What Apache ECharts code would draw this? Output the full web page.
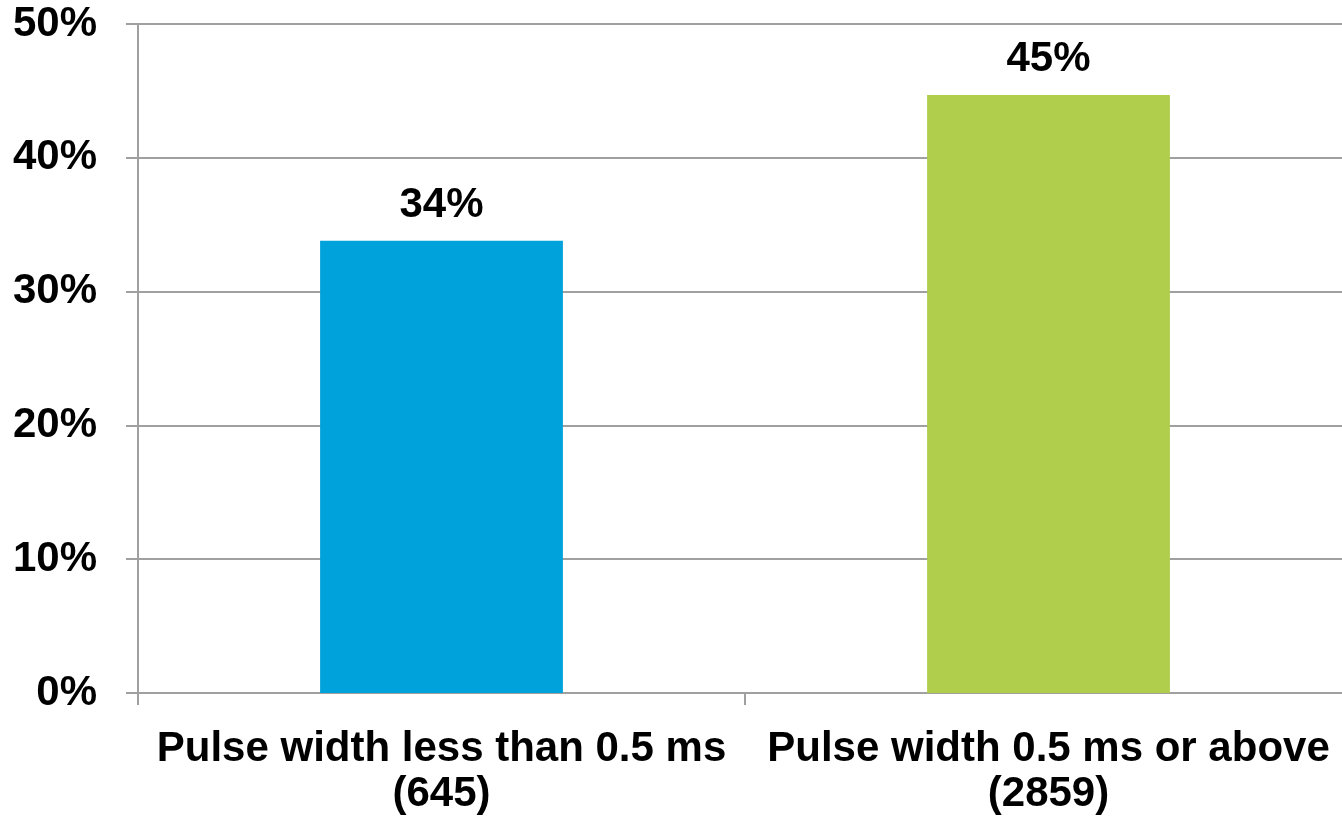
<!DOCTYPE html>
<html>
<head>
<meta charset="utf-8">
<script src="https://cdn.jsdelivr.net/npm/echarts@6/dist/echarts.min.js"></script>
<style>
  html, body { margin: 0; padding: 0; background: #fff; }
  #chart { width: 1342px; height: 821px; }
</style>
</head>
<body>
<div id="chart"></div>
<script>
// Share of events by pulse width group (sample size in brackets)
const categories = ['Pulse width less than 0.5 ms\n(645)', 'Pulse width 0.5 ms or above\n(2859)'];
const shareValues = [33.8, 44.7];
const barColors = ['#00A2DB', '#B0CD4C'];
const yTicks = [0, 10, 20, 30, 40, 50];

const font = '"Liberation Sans", Arial, sans-serif';
const chart = echarts.init(document.getElementById('chart'));

chart.setOption({
  animation: false,
  // plot area runs slightly past the right edge of the canvas
  grid: {
    left: 138, width: 1214, top: 24, bottom: 128,
    containLabel: false, outerBoundsMode: 'none'
  },
  xAxis: {
    type: 'category',
    data: categories,
    axisLine: { lineStyle: { color: '#A0A0A0', width: 2 } },
    axisTick: { show: true, length: 12, lineStyle: { color: '#A0A0A0', width: 2 } },
    axisLabel: {
      color: '#000', fontFamily: font, fontWeight: 'bold', fontSize: 42,
      lineHeight: 45, margin: 34, interval: 0
    }
  },
  yAxis: {
    type: 'value',
    min: yTicks[0],
    max: yTicks[yTicks.length - 1],
    interval: 10,
    axisLine: { show: true, lineStyle: { color: '#A0A0A0', width: 2 } },
    axisTick: { show: true, length: 12, lineStyle: { color: '#A0A0A0', width: 2 } },
    splitLine: { show: true, lineStyle: { color: '#A0A0A0', width: 2 } },
    axisLabel: {
      color: '#000', fontFamily: font, fontWeight: 'bold', fontSize: 42,
      margin: 41, formatter: v => v + '%'
    }
  },
  series: [{
    type: 'bar',
    barWidth: '40%',
    data: shareValues.map((v, i) => ({ value: v, itemStyle: { color: barColors[i] } })),
    label: {
      show: true, position: 'top', distance: 14,
      color: '#000', fontFamily: font, fontWeight: 'bold', fontSize: 42,
      formatter: p => Math.round(p.value) + '%'
    }
  }]
});
</script>
</body>
</html>
